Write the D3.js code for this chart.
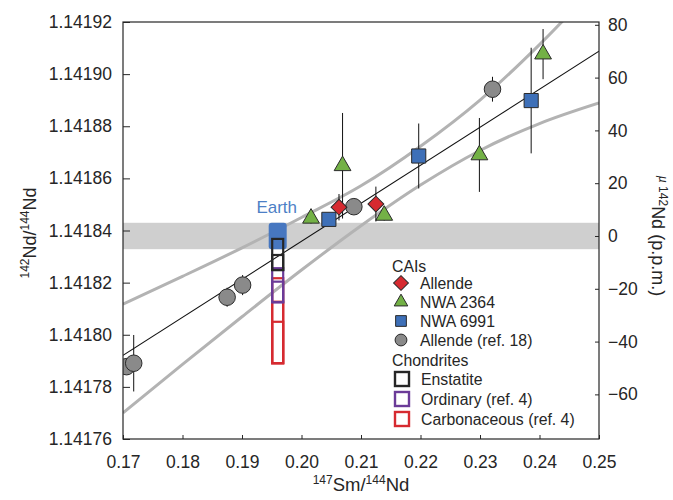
<!DOCTYPE html>
<html>
<head>
<meta charset="utf-8">
<script src="https://cdn.jsdelivr.net/npm/d3@7"></script>
<style>
  html, body { margin: 0; padding: 0; background: #fff; }
  svg { display: block; font-family: "Liberation Sans", Arial, Helvetica, sans-serif; }
</style>
</head>
<body>
<svg id="chart" width="673" height="500"></svg>
<script>
// ---- data (x = 147Sm/144Nd, y = µ142Nd in p.p.m.) ----
const xTicks = [0.17, 0.18, 0.19, 0.20, 0.21, 0.22, 0.23, 0.24, 0.25];
const ratioTicks = [1.14176, 1.14178, 1.14180, 1.14182, 1.14184, 1.14186, 1.14188, 1.14190, 1.14192];
const muTicks = [-60, -40, -20, 0, 20, 40, 60, 80];

// CAIs
const allendeX = [0.2063, 0.2125];
const allendeMu = [10.9, 12.1];
const allendeErr = [5, 6.6];

const nwa2364X = [0.2016, 0.2069, 0.2139, 0.2299, 0.2406];
const nwa2364Mu = [6.7, 26.6, 7.8, 30.7, 68.9];
const nwa2364Err = [2, 20, 2, 14, 9.5];

const nwa6991X = [0.2046, 0.2197, 0.2386];
const nwa6991Mu = [6.3, 30.3, 51.3];
const nwa6991Err = [2, 12.3, 20];

const ref18X = [0.1706, 0.1718, 0.1875, 0.1901, 0.2088, 0.2321];
const ref18Mu = [-49.5, -48.2, -23.2, -18.6, 11.1, 55.6];
const ref18Err = [3, 10.7, 3.6, 3.8, 2, 4.7];

// Earth and chondrite ranges at the chondritic Sm/Nd
const chondriteX = 0.196;
const earthRange = [5, -5];
const enstatiteRanges = [[-1.1, -12.9], [-7.2, -12.9]];
const ordinaryRanges = [[-12.2, -25.1], [-17.3, -25.1]];
const carbonaceousRanges = [[-16, -48.2], [-24.9, -48.2], [-32.5, -48.2]];

// isochron fit and its error envelope
const fitX = [0.17, 0.25];
const fitMu = [-45.2, 70.0];
const upperX = [0.17, 0.18, 0.19, 0.20, 0.21, 0.22, 0.23, 0.24, 0.25];
const upperMu = [-25.8, -15.3, -4.5, 7.0, 19.0, 34.0, 51.5, 72.5, 96];
const lowerX = [0.17, 0.18, 0.19, 0.20, 0.21, 0.22, 0.23, 0.24, 0.25];
const lowerMu = [-67, -48.6, -30.6, -12.9, 3.9, 19.3, 32.4, 42.6, 50.4];

// ---- layout ----
const svg = d3.select("#chart");
const pL = 123, pR = 599, pT = 22, pB = 439;
const x = d3.scaleLinear().domain([0.17, 0.25]).range([pL, pR]);
const yRatio = d3.scaleLinear().domain([1.14176, 1.14192]).range([pB, pT]);
const y = d3.scaleLinear().domain([-76.9, 81.06]).range([pB, pT]);

const C = {
  red: "#d62a30", green: "#73b146", blue: "#3e70b8", gray: "#8a8a8a",
  earth: "#4777c0", earthText: "#4d7fc6", purple: "#6b3b98", band: "#cfcfcf",
  env: "#b3b3b3", ink: "#262626", stroke: "#2a2a2a"
};

svg.append("defs").append("clipPath").attr("id", "plotClip")
  .append("rect").attr("x", pL).attr("y", pT).attr("width", pR - pL).attr("height", pB - pT);

const plot = svg.append("g").attr("clip-path", "url(#plotClip)");

// terrestrial band (±5 p.p.m.)
plot.append("rect")
  .attr("x", pL).attr("width", pR - pL)
  .attr("y", y(earthRange[0])).attr("height", y(earthRange[1]) - y(earthRange[0]))
  .attr("fill", C.band);

// envelope
const line = d3.line().x(d => x(d[0])).y(d => y(d[1])).curve(d3.curveMonotoneX);
plot.append("path").datum(d3.zip(upperX, upperMu)).attr("d", line)
  .attr("fill", "none").attr("stroke", C.env).attr("stroke-width", 3);
plot.append("path").datum(d3.zip(lowerX, lowerMu)).attr("d", line)
  .attr("fill", "none").attr("stroke", C.env).attr("stroke-width", 3);

// isochron
plot.append("path").datum(d3.zip(fitX, fitMu)).attr("d", d3.line().x(d => x(d[0])).y(d => y(d[1])))
  .attr("fill", "none").attr("stroke", "#111").attr("stroke-width", 1.1);

// Earth
const earthW = 18;
plot.append("rect")
  .attr("x", x(chondriteX) - earthW / 2).attr("width", earthW)
  .attr("y", y(earthRange[0])).attr("height", y(earthRange[1]) - y(earthRange[0]))
  .attr("rx", 3).attr("fill", C.earth);
svg.append("text").attr("x", x(chondriteX) - 1).attr("y", 213)
  .attr("text-anchor", "middle").attr("font-size", 17).attr("fill", C.earthText).text("Earth");

// chondrite ranges
const boxW = 11;
function ranges(list, color) {
  plot.selectAll(null).data(list).enter().append("rect")
    .attr("x", x(chondriteX) - boxW / 2).attr("width", boxW)
    .attr("y", d => y(d[0])).attr("height", d => y(d[1]) - y(d[0]))
    .attr("fill", "none").attr("stroke", color).attr("stroke-width", 2.2);
}
ranges(carbonaceousRanges, C.red);
ranges(ordinaryRanges, C.purple);
ranges(enstatiteRanges, C.ink);

// error bars + markers
const sym = {
  diamond: d3.symbol().type(d3.symbolSquare).size(125),
  triangle: d3.symbol().type(d3.symbolTriangle).size(122),
  square: d3.symbol().type(d3.symbolSquare).size(200),
  circle: d3.symbol().type(d3.symbolCircle).size(215)
};
function series(xs, mus, errs, shape, color, rotate) {
  const pts = d3.zip(xs, mus, errs);
  plot.selectAll(null).data(pts).enter().append("line")
    .attr("x1", d => x(d[0])).attr("x2", d => x(d[0]))
    .attr("y1", d => y(d[1] + d[2])).attr("y2", d => y(d[1] - d[2]))
    .attr("stroke", "#111").attr("stroke-width", 1);
  plot.selectAll(null).data(pts).enter().append("path")
    .attr("d", sym[shape])
    .attr("transform", d => `translate(${x(d[0])},${y(d[1])})` + (rotate ? " rotate(45)" : ""))
    .attr("fill", color).attr("stroke", C.stroke).attr("stroke-width", 1);
}
series(ref18X, ref18Mu, ref18Err, "circle", C.gray);
series(nwa6991X, nwa6991Mu, nwa6991Err, "square", C.blue);
series(nwa2364X, nwa2364Mu, nwa2364Err, "triangle", C.green);
series(allendeX, allendeMu, allendeErr, "diamond", C.red, true);

// ---- axes ----
function styleAxis(g) {
  g.attr("font-family", null).attr("font-size", null);
  g.select(".domain").remove();
  g.selectAll(".tick line").attr("stroke", C.ink).attr("stroke-width", 1);
  g.selectAll(".tick text").attr("fill", C.ink).attr("font-size", 17.5);
}
svg.append("g").attr("transform", `translate(${pL},0)`)
  .call(d3.axisLeft(yRatio).tickValues(ratioTicks).tickFormat(d3.format(".5f")).tickSize(-7).tickPadding(11))
  .call(styleAxis);
svg.append("g").attr("transform", `translate(${pR},0)`)
  .call(d3.axisRight(y).tickValues(muTicks).tickFormat(d => d < 0 ? "\u2212" + Math.abs(d) : d).tickSize(-4).tickPadding(9))
  .call(styleAxis);
svg.append("g").attr("transform", `translate(0,${pB})`)
  .call(d3.axisBottom(x).tickValues(xTicks).tickFormat(d3.format(".2f")).tickSize(-4).tickPadding(17))
  .call(styleAxis);

// frame
svg.append("rect").attr("x", pL).attr("y", pT).attr("width", pR - pL).attr("height", pB - pT)
  .attr("fill", "none").attr("stroke", C.ink).attr("stroke-width", 1.2);

// axis titles
function supText(sel, parts) {
  parts.forEach(p => {
    const t = sel.append("tspan").text(p.t);
    if (p.sup) t.attr("font-size", 12).attr("baseline-shift", "super");
    if (p.it) t.attr("font-style", "italic");
  });
}
const xt = svg.append("text").attr("x", 361).attr("y", 491).attr("text-anchor", "middle")
  .attr("font-size", 18.5).attr("fill", C.ink);
supText(xt, [{t: "147", sup: true}, {t: "Sm/"}, {t: "144", sup: true}, {t: "Nd"}]);

const yt = svg.append("text").attr("transform", "translate(36,233) rotate(-90)").attr("text-anchor", "middle")
  .attr("font-size", 18).attr("fill", C.ink);
supText(yt, [{t: "142", sup: true}, {t: "Nd/"}, {t: "144", sup: true}, {t: "Nd"}]);

const rt = svg.append("text").attr("transform", "translate(652,236) rotate(90)").attr("text-anchor", "middle")
  .attr("font-size", 18).attr("fill", C.ink);
supText(rt, [{t: "\u00b5", it: true, sup: true}, {t: " 142", sup: true}, {t: "Nd (p.p.m.)"}]);

// ---- legend ----
const lg = svg.append("g").attr("font-size", 15.8).attr("fill", C.ink);
const lx = 401, tx = 420;
lg.append("text").attr("x", 392).attr("y", 272).text("CAIs");
const caiItems = [
  {label: "Allende", shape: "diamond", color: C.red, rot: true, size: 110},
  {label: "NWA 2364", shape: "triangle", color: C.green, size: 80},
  {label: "NWA 6991", shape: "square", color: C.blue, size: 115},
  {label: "Allende (ref. 18)", shape: "circle", color: C.gray, size: 110}
];
caiItems.forEach((d, i) => {
  const cy = 283 + i * 19;
  lg.append("path").attr("d", d3.symbol().type(d.shape === "circle" ? d3.symbolCircle : d.shape === "triangle" ? d3.symbolTriangle : d3.symbolSquare).size(d.size))
    .attr("transform", `translate(${lx},${cy})` + (d.rot ? " rotate(45)" : ""))
    .attr("fill", d.color).attr("stroke", C.stroke).attr("stroke-width", 1);
  lg.append("text").attr("x", tx).attr("y", cy + 5.5).text(d.label);
});
lg.append("text").attr("x", 392).attr("y", 366).text("Chondrites");
const chItems = [
  {label: "Enstatite", color: C.ink},
  {label: "Ordinary (ref. 4)", color: C.purple},
  {label: "Carbonaceous (ref. 4)", color: C.red}
];
chItems.forEach((d, i) => {
  const cy = 379 + i * 20;
  lg.append("rect").attr("x", lx - 7 + 1).attr("y", cy - 7).attr("width", 14).attr("height", 14)
    .attr("fill", "#fff").attr("stroke", d.color).attr("stroke-width", 2.4);
  lg.append("text").attr("x", tx + 1).attr("y", cy + 5.5).text(d.label);
});
</script>
</body>
</html>
